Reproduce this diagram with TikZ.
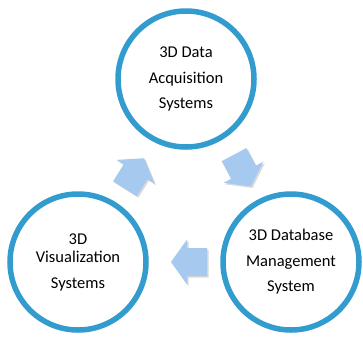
\documentclass[tikz,border=0pt]{standalone}
\usepackage{fontspec}
\setmainfont{Carlito}
\usepackage{tikz}
\usetikzlibrary{positioning, shadows}
\definecolor{ringblue}{HTML}{339CCF}
\definecolor{arrowblue}{HTML}{A6CAEF}
\tikzset{
  sysnode/.style={circle, draw=ringblue, line width=5.5pt, fill=white,
    minimum size=136pt, align=center, font=\fontsize{16.5}{25.5}\selectfont,
    drop shadow={opacity=0.15, shadow xshift=1.5pt, shadow yshift=-1.5pt}},
  blockarr/.style={fill=arrowblue,
    drop shadow={opacity=0.3, shadow xshift=1.5pt, shadow yshift=-1.5pt}}
}

\begin{document}
\begin{tikzpicture}[x=1pt, y=-1pt]
        \useasboundingbox (0,0) rectangle (363,338);

        % 矢印の描画
        \foreach \cx/\cy/\ang in {134.5/173.5/58, 242.5/170.5/-62, 189/262/180} {
            \begin{scope}[shift={(\cx,\cy)}, rotate=\ang]
                \fill[blockarr] (-18,-14) -- (2,-14) -- (2,-22.5) -- (18,0)
                    -- (2,22.5) -- (2,14) -- (-18,14) -- cycle;
            \end{scope}
        }

        % 円の描画
        \node[sysnode] (acq) at (186,79) {3D Data\\Acquisition\\Systems};
        \node[sysnode] (dbms) at (291,262) {3D Database\\Management\\System};
        \node[sysnode] (vis) at (78,262) {3D\\[-7pt]Visualization\\Systems};
    \end{tikzpicture}
\end{document}
